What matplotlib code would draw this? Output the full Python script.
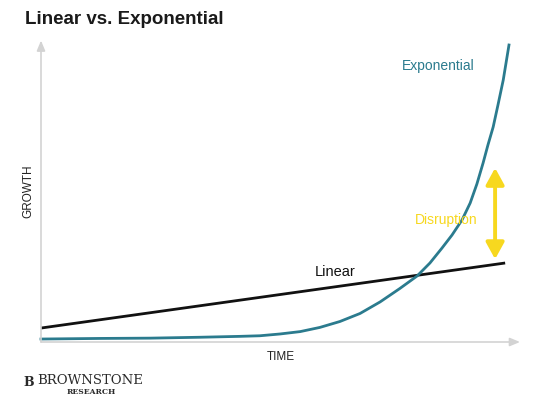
import matplotlib.pyplot as plt

# time / growth in percent of the axis span
time_exp = [0, 12.3, 22.8, 33.2, 41.5, 45.7, 49.9, 54.1, 58.2, 62.4, 66.6, 70.8, 74.9, 78.5,
            81.2, 83.7, 85.8, 87.9, 89.6, 91.0, 92.3, 93.3, 94.4, 95.4, 96.5, 97.7]
growth_exp = [1.0, 1.2, 1.3, 1.6, 1.9, 2.1, 2.7, 3.5, 4.9, 6.9, 9.6, 13.5, 18.0, 22.2,
              26.6, 31.6, 36.0, 41.1, 46.8, 53.2, 60.3, 66.3, 72.4, 79.8, 88.2, 100]
time_lin = [0, 96.9]
growth_lin = [4.7, 26.6]
disruption = [27.9, 58.6]  # arrow ends, growth units
disruption_x = 94.8

teal = '#2b7b8e'
yellow = '#f7d81f'
grey = '#d3d3d3'
sans = 'Liberation Sans'

fig = plt.figure(figsize=(5.6, 3.99), dpi=100)
W, H = 560, 399
ax = fig.add_axes([41 / W, 1 - 342 / H, 479 / W, 297 / H])
ax.set_xlim(0, 100)
ax.set_ylim(0, 100)
ax.axis('off')

# axes with arrows
ax.annotate('', xy=(0, 101.5), xytext=(0, 0),
            arrowprops=dict(arrowstyle='-|>,head_length=0.6,head_width=0.25', color=grey, lw=1.2,
                            shrinkA=0, shrinkB=0), annotation_clip=False)
ax.annotate('', xy=(100, 0), xytext=(0, 0),
            arrowprops=dict(arrowstyle='-|>,head_length=0.6,head_width=0.25', color=grey, lw=1.2,
                            shrinkA=0, shrinkB=0), annotation_clip=False)

ax.plot(time_lin, growth_lin, color='#111111', lw=2, solid_capstyle='butt', clip_on=False)
ax.plot(time_exp, growth_exp, color=teal, lw=2, clip_on=False)

ax.annotate('', xy=(disruption_x, disruption[1]), xytext=(disruption_x, disruption[0]),
            arrowprops=dict(arrowstyle='<|-|>,head_length=1.0,head_width=0.55', color=yellow, lw=2.8,
                            shrinkA=0, shrinkB=0))

ax.text(61.5, 23.5, 'Linear', fontsize=10.5, family=sans, ha='center', va='center', color='#111111')
ax.text(83, 93, 'Exponential', fontsize=10, family=sans, ha='center', va='center', color=teal)
ax.text(84.5, 41, 'Disruption', fontsize=10, family=sans, ha='center', va='center', color=yellow)

fig.text(25 / W, 1 - 20 / H, 'Linear vs. Exponential', fontsize=13.5, fontweight='bold',
         family=sans, ha='left', va='center', color='#1a1a1a')
fig.text(28 / W, 1 - 191 / H, 'GROWTH', fontsize=8.5, family=sans, rotation=90,
         ha='center', va='center', color='#222222')
fig.text(281 / W, 1 - 357 / H, 'TIME', fontsize=8.5, family=sans,
         ha='center', va='center', color='#222222')

# logo
fig.text(37 / W, 1 - 380 / H, 'BROWNSTONE', fontsize=9.5, family='DejaVu Serif',
         ha='left', va='center', color='#2a2a2a')
fig.text(91 / W, 1 - 392 / H, 'RESEARCH', fontsize=5.5, fontweight='bold', family='DejaVu Serif',
         ha='center', va='center', color='#2a2a2a')
fig.text(29 / W, 1 - 383 / H, 'B', fontsize=9, fontweight='bold', family='DejaVu Serif',
         ha='center', va='center', color='#2a2a2a')

fig.savefig('out.png', dpi=100)
